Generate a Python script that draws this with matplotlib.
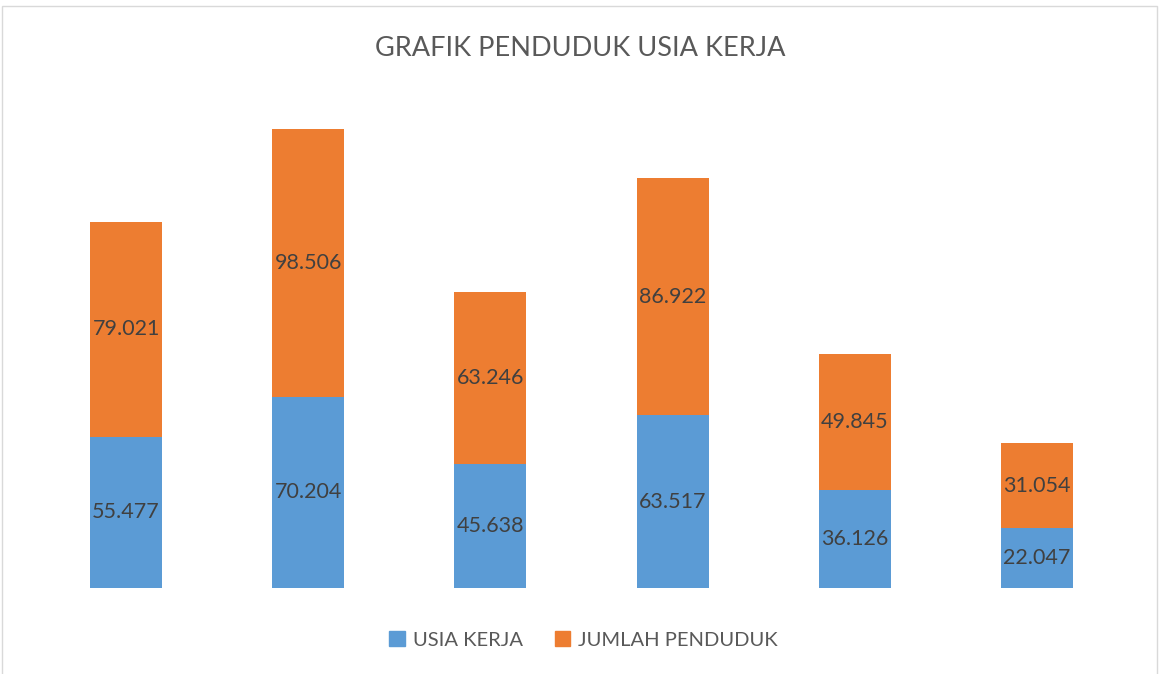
import matplotlib
matplotlib.use("Agg")
import matplotlib.pyplot as plt
from matplotlib.patches import Rectangle, Patch

categories = ["1", "2", "3", "4", "5", "6"]
usia_kerja = [55.477, 70.204, 45.638, 63.517, 36.126, 22.047]
jumlah_penduduk = [79.021, 98.506, 63.246, 86.922, 49.845, 31.054]
series_names = ["USIA KERJA", "JUMLAH PENDUDUK"]
title = "GRAFIK PENDUDUK USIA KERJA"

FONT = ["Lato", "DejaVu Sans"]
plt.rcParams["font.family"] = FONT

W, H = 1160, 674
fig = plt.figure(figsize=(W / 100, H / 100), dpi=100)
left, right, base, top = 35, 1128, 588, 98
ax = fig.add_axes([left / W, 1 - base / H, (right - left) / W, (base - top) / H])

blue = "#5B9BD5"
orange = "#ED7D31"
x = list(range(len(categories)))
w = 0.395
ax.bar(x, usia_kerja, width=w, color=blue, label=series_names[0])
ax.bar(x, jumlah_penduduk, width=w, bottom=usia_kerja, color=orange, label=series_names[1])

def fmt(v):
    return f"{v:.3f}"

for i in x:
    ax.text(i, usia_kerja[i] / 2, fmt(usia_kerja[i]), ha="center", va="center",
            fontsize=15.5, color="#404040")
    ax.text(i, usia_kerja[i] + jumlah_penduduk[i] / 2, fmt(jumlah_penduduk[i]),
            ha="center", va="center", fontsize=15.5, color="#404040")

ax.set_xlim(-0.5, len(categories) - 0.5)
ax.set_ylim(0, 180)
ax.axis("off")

fig.text(0.5, 1 - 48 / H, title, ha="center", va="center", fontsize=19.5, color="#595959")

handles = [Patch(color=blue), Patch(color=orange)]
fig.legend(handles, series_names, loc="center", bbox_to_anchor=(0.503, 1 - 640 / H),
           ncol=2, frameon=False, fontsize=14.5, labelcolor="#595959",
           handlelength=0.75, handleheight=0.75, handletextpad=0.4, columnspacing=1.6)

fig.patches.append(Rectangle((2 / W, -0.01), (1157 - 2) / W, 1.01 - 6 / H,
                             transform=fig.transFigure, fill=False,
                             edgecolor="#D9D9D9", linewidth=1.0))

fig.savefig("out.png", dpi=100)
